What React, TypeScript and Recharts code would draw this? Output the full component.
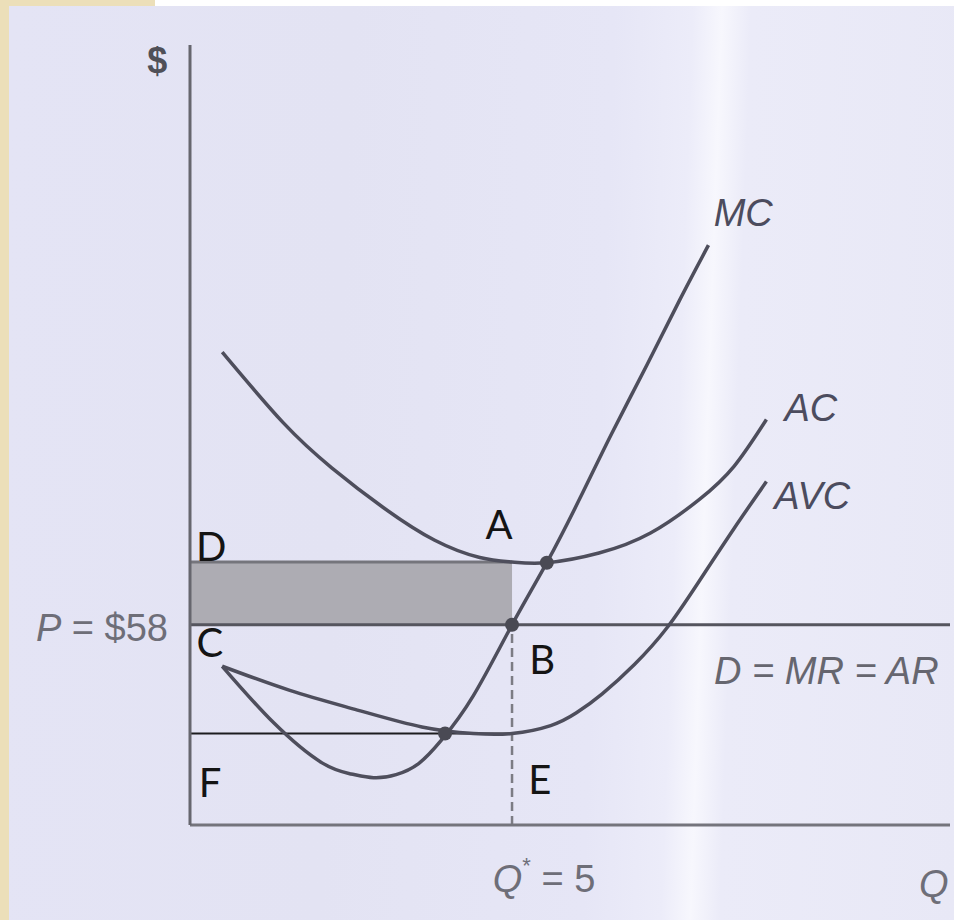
import {
    ComposedChart,
    Line,
    XAxis,
    YAxis,
    ReferenceArea,
    ReferenceLine,
    ReferenceDot,
} from 'recharts';

// short-run cost curves, quantity on x, $ on y
const mcQ = [0.5, 1.3, 2.05, 2.5, 2.85, 3.2, 3.55, 3.9, 4.4, 5, 5.54, 6.05, 6.55, 7.1, 7.6, 8.05];
const mcCost = [46, 29.6, 18, 14.8, 13.7, 14.6, 17.8, 24.5, 37.5, 58, 76, 94.5, 113.5, 133.5, 152, 168];

const acQ = [0.5, 1.45, 2.2, 3, 3.8, 4.5, 5, 5.54, 6.35, 7.15, 7.9, 8.45, 8.95];
const acCost = [137, 116.5, 103.5, 92, 82.5, 77.5, 76.2, 76, 78.8, 84.6, 94.2, 104, 117.5];

const avcQ = [0.5, 1.55, 2.6, 3.6, 4.4, 5, 5.6, 6, 6.4, 6.9, 7.4, 7.9, 8.45, 8.95];
const avcCost = [46, 39, 33.3, 28.4, 26.5, 26.5, 28.8, 32.5, 38, 46.5, 57, 70.5, 86, 99.5];

const price = 58;
const qStar = 5;
const acAtQStar = 76.2;
const avcAtQStar = 26.5;

const xTicks = [qStar];
const yTicks = [price];

const toRows = (qs: number[], costs: number[]) => qs.map((q, i) => ({ q, cost: costs[i] }));
const mcData = toRows(mcQ, mcCost);
const acData = toRows(acQ, acCost);
const avcData = toRows(avcQ, avcCost);

// point letters and curve names, placed in data units
const letters = [
    { text: 'A', q: 4.8, v: 87.2 },
    { text: 'B', q: 5.47, v: 48.1 },
    { text: 'C', q: 0.31, v: 53 },
    { text: 'D', q: 0.33, v: 80.8 },
    { text: 'E', q: 5.43, v: 13.3 },
    { text: 'F', q: 0.31, v: 12.5 },
];
const curveNames = [
    { text: 'MC', q: 8.59, v: 177.3 },
    { text: 'AC', q: 9.64, v: 120.8 },
    { text: 'AVC', q: 9.66, v: 95.3 },
];

const INK = '#4e4e5c';
const SOFT = '#6e6e78';
const SANS = '"Liberation Sans", Arial, sans-serif';

const Tag = ({ cx, cy, children, font, size, fill, italic, bold }: any) => (
    <text
        x={cx}
        y={cy}
        textAnchor="middle"
        dominantBaseline="central"
        fontFamily={font}
        fontSize={size}
        fill={fill}
        fontStyle={italic ? 'italic' : 'normal'}
        fontWeight={bold ? 700 : 400}
    >
        {children}
    </text>
);

const PriceTick = ({ x, y, payload }: any) => (
    <text x={x - 22} y={y + 3} textAnchor="end" dominantBaseline="central" fontFamily={SANS} fontSize={38} fill={SOFT}>
        <tspan fontStyle="italic">P</tspan> = ${payload.value}
    </text>
);

const QuantityTick = ({ x, y, payload }: any) => (
    <text x={x + 32} y={y + 54} textAnchor="middle" dominantBaseline="central" fontFamily={SANS} fontSize={38} fill={SOFT}>
        <tspan fontStyle="italic">Q</tspan>
        <tspan fontSize={22} dy={-14}>*</tspan>
        <tspan dy={14}> = {payload.value}</tspan>
    </text>
);

export default function App() {
    return (
        <div
            style={{
                position: 'absolute',
                left: 0,
                top: 0,
                width: 954,
                height: 920,
                background: '#ecdfb9',
                overflow: 'hidden',
            }}
        >
            <div style={{ position: 'absolute', left: 155, top: 0, width: 799, height: 6, background: '#ffffff' }} />
            <div
                style={{
                    position: 'absolute',
                    left: 9,
                    top: 6,
                    width: 945,
                    height: 914,
                    background:
                        'linear-gradient(92deg, #e4e4f5 0%, #e3e3f3 35%, #e6e6f6 62%, #ececf9 70%, #f7f7fd 73%, #ebebf8 76%, #e8e8f6 100%)',
                }}
            />
            <div style={{ position: 'absolute', left: 0, top: 0 }}>
                <ComposedChart width={954} height={920} margin={{ top: 45, right: 4, left: 0, bottom: 0 }}>
                    <XAxis
                        type="number"
                        dataKey="q"
                        domain={[0, 11.8]}
                        ticks={xTicks}
                        tick={<QuantityTick />}
                        tickSize={0}
                        tickMargin={0}
                        height={95}
                        allowDataOverflow
                        axisLine={{ stroke: '#74747c', strokeWidth: 3 }}
                    />
                    <YAxis
                        type="number"
                        domain={[0, 226]}
                        ticks={yTicks}
                        tick={<PriceTick />}
                        tickSize={0}
                        tickMargin={0}
                        width={190}
                        allowDataOverflow
                        axisLine={{ stroke: '#66666e', strokeWidth: 3 }}
                    />

                    {/* loss rectangle between AC and price at Q* */}
                    <ReferenceArea x1={0} x2={qStar} y1={price} y2={acAtQStar} fill="#adacb3" fillOpacity={1} stroke="none" />
                    <ReferenceLine
                        segment={[{ x: 0, y: acAtQStar }, { x: qStar, y: acAtQStar }]}
                        stroke="#75757c"
                        strokeWidth={3}
                    />
                    <ReferenceLine
                        segment={[{ x: 0, y: avcAtQStar }, { x: qStar, y: avcAtQStar }]}
                        stroke="#1c1c1f"
                        strokeWidth={2}
                    />
                    <ReferenceLine
                        segment={[{ x: qStar, y: 0 }, { x: qStar, y: price }]}
                        stroke="#7c7c84"
                        strokeWidth={2.5}
                        strokeDasharray="9 5"
                    />
                    <ReferenceLine y={price} stroke="#55555e" strokeWidth={3} />

                    <Line data={acData} dataKey="cost" type="natural" stroke={INK} strokeWidth={3.5} dot={false} isAnimationActive={false} />
                    <Line data={avcData} dataKey="cost" type="natural" stroke={INK} strokeWidth={3.5} dot={false} isAnimationActive={false} />
                    <Line data={mcData} dataKey="cost" type="natural" stroke={INK} strokeWidth={3.5} dot={false} isAnimationActive={false} />

                    <ReferenceDot x={5.54} y={76} r={7} fill="#4a4a54" stroke="none" />
                    <ReferenceDot x={qStar} y={price} r={7} fill="#4a4a54" stroke="none" />
                    <ReferenceDot x={3.96} y={avcAtQStar} r={7} fill="#4a4a54" stroke="none" />

                    {letters.map((l) => (
                        <ReferenceDot
                            key={l.text}
                            x={l.q}
                            y={l.v}
                            r={0}
                            ifOverflow="visible"
                            shape={(p: any) => (
                                <Tag cx={p.cx} cy={p.cy} font="Lato, sans-serif" size={40} fill="#141414">
                                    {l.text}
                                </Tag>
                            )}
                        />
                    ))}
                    {curveNames.map((c) => (
                        <ReferenceDot
                            key={c.text}
                            x={c.q}
                            y={c.v}
                            r={0}
                            ifOverflow="visible"
                            shape={(p: any) => (
                                <Tag cx={p.cx} cy={p.cy} font={SANS} size={38} fill="#4c4c5e" italic>
                                    {c.text}
                                </Tag>
                            )}
                        />
                    ))}
                    <ReferenceDot
                        x={9.88}
                        y={44.6}
                        r={0}
                        ifOverflow="visible"
                        shape={(p: any) => (
                            <Tag cx={p.cx} cy={p.cy} font={SANS} size={38} fill="#66666f" italic>
                                D = MR = AR
                            </Tag>
                        )}
                    />
                    <ReferenceDot
                        x={-0.51}
                        y={221.4}
                        r={0}
                        ifOverflow="visible"
                        shape={(p: any) => (
                            <Tag cx={p.cx} cy={p.cy} font={SANS} size={36} fill="#505058" bold>
                                $
                            </Tag>
                        )}
                    />
                    <ReferenceDot
                        x={11.55}
                        y={-17.1}
                        r={0}
                        ifOverflow="visible"
                        shape={(p: any) => (
                            <Tag cx={p.cx} cy={p.cy} font={SANS} size={38} fill={SOFT} italic>
                                Q
                            </Tag>
                        )}
                    />
                </ComposedChart>
            </div>
        </div>
    );
}
